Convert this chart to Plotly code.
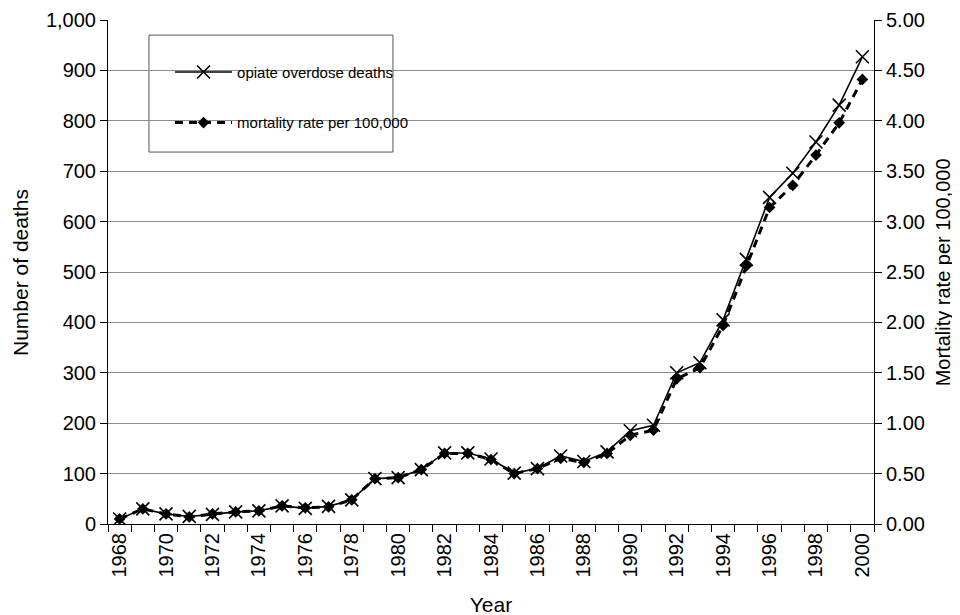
import plotly.graph_objects as go

years = list(range(1968, 2001))
deaths = [10, 30, 20, 15, 19, 24, 26, 36, 31, 35, 48, 90, 92, 108, 141, 141, 129, 101, 110, 135, 124, 143, 185, 196,
          300, 320, 405, 525, 648, 696, 758, 831, 927]
rate = [0.05, 0.15, 0.10, 0.07, 0.10, 0.12, 0.13, 0.18, 0.16, 0.17, 0.24, 0.45, 0.46, 0.54, 0.70, 0.70, 0.64, 0.50,
        0.55, 0.65, 0.61, 0.70, 0.88, 0.93, 1.44, 1.55, 1.97, 2.56, 3.14, 3.36, 3.66, 3.98, 4.41]
label_years = list(range(1968, 2001, 2))

FONT = "Liberation Sans, Arial, sans-serif"

fig = go.Figure()
fig.add_trace(go.Scatter(
    x=years, y=deaths, name="opiate overdose deaths", mode="lines+markers",
    line=dict(color="black", width=1.6),
    marker=dict(symbol="x-thin", size=13, line=dict(color="black", width=1.6)),
    legendgroup="a", yaxis="y"))
fig.add_trace(go.Scatter(
    x=years, y=rate, name="mortality rate per 100,000", mode="lines+markers",
    line=dict(color="black", width=3, dash="8px,6px"),
    marker=dict(symbol="diamond", size=9, color="black"),
    legendgroup="b", yaxis="y2"))

# page body has an 8px margin, so margins are offset by 8px
fig.update_layout(
    width=960, height=615,
    margin=dict(l=100, r=94, t=12, b=99),
    paper_bgcolor="white", plot_bgcolor="white",
    font=dict(family=FONT, size=20, color="black"),
    showlegend=True,
    legend=dict(x=0.081, y=0.929, xanchor="left", yanchor="top",
                bgcolor="rgba(0,0,0,0)", borderwidth=0,
                font=dict(size=15), tracegroupgap=28, itemwidth=57,
                traceorder="grouped"),
    xaxis=dict(range=[1967.5, 2000.5], tickmode="array", tickvals=label_years,
               ticktext=[str(y) for y in label_years], tickangle=-90,
               ticks="", showgrid=False, showline=True, linecolor="black", linewidth=1,
               minor=dict(tickmode="linear", tick0=1967.5, dtick=1, ticks="outside",
                          ticklen=7, tickcolor="black", showgrid=False),
               title=dict(text="Year", standoff=20, font=dict(size=21)), zeroline=False,
               automargin=False),
    yaxis=dict(range=[0, 1000], dtick=100, tickformat=",", ticks="outside", ticklen=7,
               tickcolor="black", showline=True, linecolor="black", linewidth=1,
               gridcolor="#8c8c8c", gridwidth=1, zeroline=False, automargin=False),
    yaxis2=dict(range=[0, 5], dtick=0.5, tickformat=".2f", overlaying="y", side="right",
                ticks="outside", ticklen=7, tickcolor="black", showline=True,
                linecolor="black", linewidth=1, showgrid=False, zeroline=False,
                automargin=False),
    annotations=[
        dict(text="Number of deaths", xref="paper", yref="paper", x=-0.1149, y=0.5,
             xanchor="center", yanchor="middle", textangle=-90, showarrow=False,
             font=dict(size=21)),
        dict(text="Mortality rate per 100,000", xref="paper", yref="paper", x=1.0905, y=0.5,
             xanchor="center", yanchor="middle", textangle=-90, showarrow=False,
             font=dict(size=20)),
    ],
    shapes=[dict(type="rect", xref="paper", yref="paper", x0=0.0535, x1=0.372,
                 y0=0.738, y1=0.970, line=dict(color="#555555", width=1),
                 fillcolor="white", layer="below")],
)

fig.write_html("out.html")
